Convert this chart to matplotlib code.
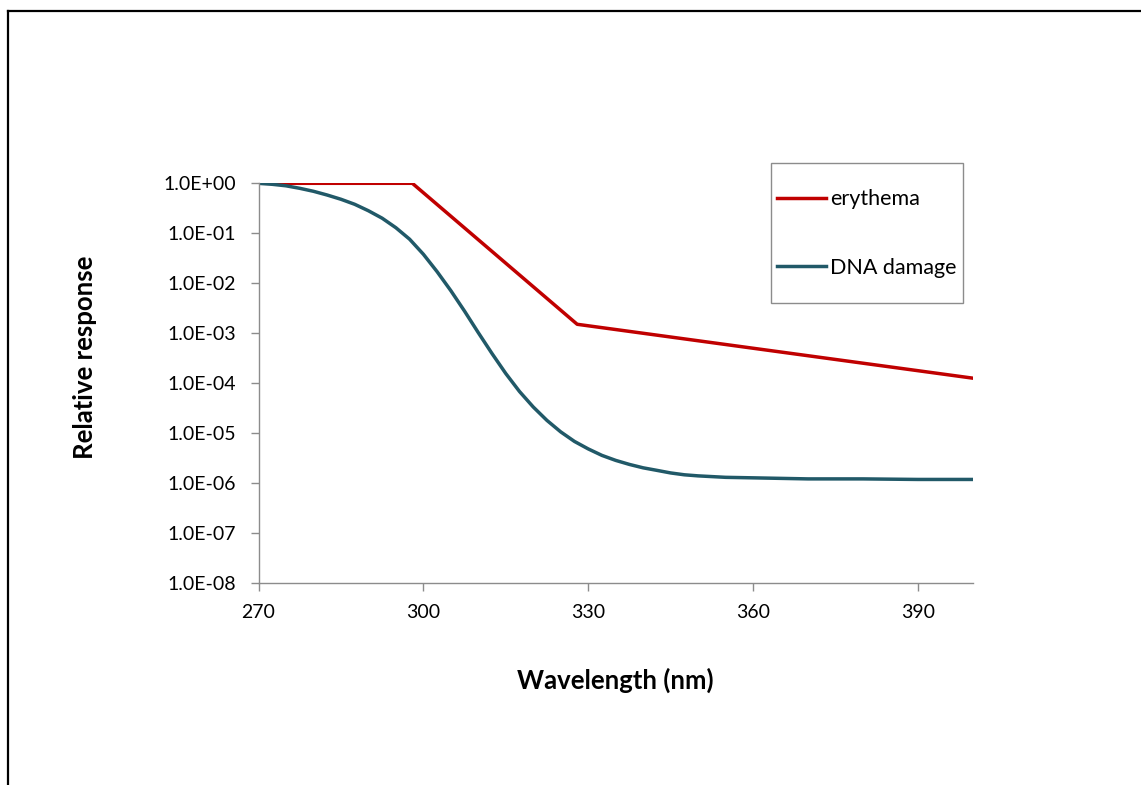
import matplotlib
matplotlib.use('Agg')
import matplotlib.pyplot as plt
from matplotlib.lines import Line2D
from matplotlib.patches import Rectangle
from matplotlib.ticker import FixedLocator, FuncFormatter, NullLocator

# erythema action spectrum (breakpoints)
ery_nm = [270, 298, 328, 400]
ery_val = [1.0, 1.0, 1.5e-3, 1.25e-4]

# DNA damage spectrum
dna_nm = [270, 272.5, 275, 277.5, 280, 282.5, 285, 287.5, 290, 292.5, 295, 297.5,
          300, 302.5, 305, 307.5, 310, 312.5, 315, 317.5, 320, 322.5, 325, 327.5,
          330, 332.5, 335, 337.5, 340, 342.5, 345, 347.5, 350, 355, 360, 370,
          380, 390, 400]
dna_val = [1.0, 0.955, 0.891, 0.794, 0.692, 0.582, 0.479, 0.380, 0.282, 0.200,
           0.129, 0.0759, 0.0380, 0.0170, 7.08e-3, 2.75e-3, 1.02e-3, 3.89e-4,
           1.55e-4, 6.76e-5, 3.31e-5, 1.78e-5, 1.05e-5, 6.76e-6, 4.79e-6, 3.55e-6,
           2.82e-6, 2.34e-6, 2.00e-6, 1.78e-6, 1.58e-6, 1.45e-6, 1.38e-6, 1.29e-6,
           1.26e-6, 1.20e-6, 1.20e-6, 1.17e-6, 1.17e-6]

x_ticks = [270, 300, 330, 360, 390]
y_ticks = [1e0, 1e-1, 1e-2, 1e-3, 1e-4, 1e-5, 1e-6, 1e-7, 1e-8]

plt.rcParams['font.family'] = ['Lato', 'DejaVu Sans']

W, H = 1141, 785
fig = plt.figure(figsize=(W / 100, H / 100), dpi=100)
ax = fig.add_axes([258.5 / W, 1 - 582.7 / H, (972.8 - 258.5) / W, (582.7 - 183.3) / H])

ax.plot(ery_nm, ery_val, color='#C00000', lw=2.5, label='erythema')
ax.plot(dna_nm, dna_val, color='#215968', lw=2.5, label='DNA damage')

ax.set_yscale('log')
ax.set_xlim(270, 400)
ax.set_ylim(1e-8, 1e0)
ax.xaxis.set_major_locator(FixedLocator(x_ticks))
ax.yaxis.set_major_locator(FixedLocator(y_ticks))
ax.yaxis.set_minor_locator(NullLocator())
ax.yaxis.set_major_formatter(FuncFormatter(lambda v, p: f'{v:.1E}'))

for s in ['top', 'right']:
    ax.spines[s].set_visible(False)
for s in ['left', 'bottom']:
    ax.spines[s].set_color('#8c8c8c')
    ax.spines[s].set_linewidth(1.0)
ax.tick_params(axis='both', direction='out', length=6, width=1.0, color='#8c8c8c',
               labelsize=14, labelcolor='black')
ax.tick_params(axis='y', pad=10)
ax.tick_params(axis='x', pad=9)
for lab in ax.get_xticklabels() + ax.get_yticklabels():
    lab.set_clip_on(False)

ax.set_xlabel('Wavelength (nm)', fontsize=18.5, fontweight='bold', labelpad=34)
ax.set_ylabel('Relative response', fontsize=18.5, fontweight='bold', labelpad=48)
ax.yaxis.label.set_y(0.565)

# legend: frame drawn separately so the padding matches the reference
fig.add_artist(Rectangle((771 / W, 1 - 303 / H), 192 / W, 140 / H, fill=False,
                         edgecolor='#8c8c8c', lw=1.0, transform=fig.transFigure))
leg = ax.legend(loc='center left', bbox_to_anchor=(777 / W, 1 - 233.3 / H),
                bbox_transform=fig.transFigure, borderaxespad=0, borderpad=0,
                frameon=False, fontsize=15.5, handlelength=2.28,
                handletextpad=0.19, labelspacing=2.25)

# outer chart border (top and left only visible)
fig.add_artist(Line2D([8 / W, 1], [1 - 11 / H, 1 - 11 / H], color='black', lw=1.6,
                      transform=fig.transFigure))
fig.add_artist(Line2D([8 / W, 8 / W], [0, 1 - 11 / H], color='black', lw=1.6,
                      transform=fig.transFigure))

fig.savefig('out.png', dpi=100)
